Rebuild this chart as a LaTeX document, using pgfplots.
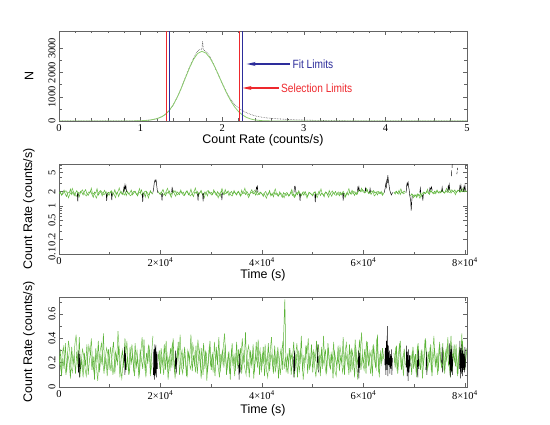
\documentclass[border=0pt]{standalone}
\usepackage{pgfplots}
\pgfplotsset{compat=1.18}
\usepackage{pgfplotstable}
\usepackage{graphicx}
\usetikzlibrary{arrows.meta}
\usepackage{fontspec}
\setmainfont{Liberation Serif}
\setsansfont{Liberation Sans}
\definecolor{lcgreen}{RGB}{90,178,55}
\definecolor{lcgreenB}{RGB}{110,190,75}
\definecolor{fitgreen}{RGB}{140,205,110}
\definecolor{selred}{RGB}{238,40,45}
\definecolor{fitblue}{RGB}{45,45,155}
\definecolor{framegray}{RGB}{100,100,100}

\pgfplotstableread[row sep=\\]{
1.80\\2.00\\1.68\\1.90\\2.15\\1.75\\1.58\\1.95\\1.85\\2.25\\1.72\\1.98\\1.64\\1.87\\2.09\\1.82\\1.55\\2.03\\1.92\\1.70\\
1.99\\2.19\\1.79\\1.66\\1.88\\2.06\\1.74\\1.52\\1.96\\1.84\\2.30\\1.69\\1.87\\2.02\\1.62\\1.90\\2.12\\1.78\\1.60\\1.93\\
1.85\\2.05\\1.67\\1.81\\2.18\\1.76\\1.94\\1.57\\1.88\\2.00\\1.74\\2.23\\1.98\\1.65\\1.97\\1.78\\1.91\\2.14\\1.71\\1.90\\
2.03\\1.79\\1.62\\1.96\\1.87\\2.16\\1.72\\1.91\\1.53\\2.00\\1.82\\1.68\\2.08\\1.88\\1.76\\nan\\nan\\nan\\2.02\\1.85\\
1.74\\1.97\\2.21\\1.81\\1.63\\1.93\\1.84\\2.05\\1.69\\1.88\\2.11\\1.78\\1.59\\1.99\\1.87\\1.72\\2.15\\1.82\\1.94\\1.66\\
1.90\\2.06\\1.71\\1.85\\2.24\\1.76\\1.57\\1.96\\1.84\\2.02\\1.65\\1.91\\2.12\\1.79\\1.68\\1.97\\1.87\\1.62\\2.04\\1.82\\
1.93\\1.75\\2.17\\1.85\\1.66\\2.00\\1.79\\1.59\\2.06\\1.88\\1.71\\2.20\\1.84\\1.94\\1.64\\1.87\\2.01\\1.76\\2.10\\1.83\\
1.69\\1.96\\1.87\\1.60\\2.14\\1.81\\1.91\\1.73\\2.02\\1.84\\1.63\\1.97\\2.19\\1.78\\1.90\\1.68\\2.04\\1.85\\1.74\\1.93\\
1.79\\1.58\\1.88\\2.00\\1.67\\1.75\\2.10\\1.63\\1.84\\1.55\\1.93\\1.72\\1.83\\1.61\\1.97\\1.70\\1.51\\1.90\\1.76\\1.64\\
1.85\\1.60\\1.74\\1.99\\1.66\\1.79\\1.56\\1.91\\1.71\\2.07\\1.81\\1.63\\1.88\\1.68\\2.01\\1.76\\1.58\\1.94\\1.83\\1.73\\
1.62\\1.87\\1.98\\1.69\\1.79\\2.05\\1.65\\1.84\\1.76\\1.55\\1.96\\1.88\\1.67\\2.10\\1.78\\1.59\\1.91\\1.82\\2.01\\1.71\\
1.84\\1.63\\1.93\\1.74\\2.02\\1.81\\1.58\\1.88\\1.69\\1.98\\1.78\\2.13\\1.87\\1.66\\1.95\\1.76\\2.06\\2.15\\1.97\\2.21\\
2.08\\1.87\\1.99\\2.18\\1.82\\2.03\\1.74\\1.94\\2.10\\1.86\\1.98\\1.70\\1.91\\1.80\\2.02\\1.67\\1.85\\nan\\nan\\nan\\
nan\\nan\\nan\\nan\\1.96\\1.77\\2.03\\1.84\\2.12\\1.73\\1.98\\1.86\\2.06\\1.92\\nan\\nan\\nan\\1.62\\1.80\\1.70\\
1.58\\1.69\\1.50\\1.77\\1.63\\1.86\\1.56\\1.74\\1.92\\1.82\\2.04\\1.88\\1.74\\2.11\\1.94\\1.85\\2.03\\1.80\\2.15\\1.90\\
2.00\\1.88\\2.19\\1.95\\1.84\\2.09\\1.92\\2.03\\2.25\\1.86\\2.06\\1.97\\2.17\\1.89\\2.02\\2.12\\1.93\\2.20\\1.98\\2.08\\
2.01\\2.10\\
}\midgreen

\pgfplotstableread[row sep=\\]{
1.92\\1.78\\1.71\\1.86\\1.99\\2.08\\1.83\\1.48\\1.75\\1.89\\2.33\\1.95\\1.80\\1.58\\1.69\\1.93\\1.84\\2.01\\2.17\\1.87\\
1.73\\1.62\\1.81\\1.97\\1.90\\2.36\\1.76\\1.85\\1.66\\1.46\\1.79\\1.94\\2.10\\2.02\\1.83\\1.71\\1.88\\1.97\\1.80\\1.67\\
1.91\\2.07\\1.82\\1.74\\1.49\\1.86\\2.00\\2.38\\1.89\\1.77\\1.83\\1.69\\1.95\\2.09\\1.85\\1.72\\1.63\\1.81\\1.98\\2.04\\
1.86\\1.70\\1.92\\2.31\\1.79\\1.66\\1.84\\1.99\\2.05\\1.75\\1.47\\1.88\\1.94\\1.80\\nan\\nan\\nan\\nan\\1.90\\1.77\\
1.95\\1.83\\1.68\\1.77\\2.02\\2.34\\1.89\\1.73\\1.50\\1.85\\1.96\\2.08\\1.81\\1.70\\1.87\\2.00\\1.92\\1.76\\1.64\\1.83\\
2.05\\1.91\\1.79\\1.62\\1.74\\1.88\\2.03\\2.37\\1.84\\1.72\\1.81\\1.97\\1.86\\1.69\\1.47\\1.82\\1.99\\2.10\\1.93\\1.78\\
1.68\\1.86\\2.01\\1.90\\1.75\\1.48\\1.80\\1.95\\2.32\\1.88\\1.76\\1.84\\1.98\\2.07\\1.82\\1.70\\1.61\\1.87\\1.94\\1.79\\
1.89\\2.04\\1.77\\1.66\\1.83\\1.97\\2.35\\1.85\\1.72\\1.49\\1.80\\1.92\\1.86\\2.00\\2.15\\1.81\\1.69\\1.76\\1.95\\1.84\\
1.70\\1.82\\1.65\\1.45\\1.78\\1.91\\1.83\\1.68\\1.74\\1.96\\2.26\\1.79\\1.62\\1.71\\1.86\\1.77\\1.67\\1.48\\1.81\\1.92\\
1.75\\1.64\\1.88\\2.22\\1.72\\1.50\\1.69\\1.84\\1.93\\1.78\\1.66\\1.80\\1.99\\1.87\\1.73\\1.46\\1.76\\1.90\\1.82\\1.70\\
1.85\\1.96\\1.73\\1.49\\1.77\\1.89\\2.27\\1.80\\1.68\\1.83\\1.94\\1.75\\1.52\\1.79\\1.91\\2.06\\1.84\\1.71\\1.66\\1.88\\
1.97\\1.80\\1.69\\1.86\\1.75\\1.50\\1.83\\1.95\\2.30\\1.88\\1.76\\1.90\\2.02\\1.85\\1.73\\1.96\\2.12\\2.04\\2.36\\1.99\\
1.91\\2.06\\2.34\\1.94\\1.83\\1.89\\2.07\\1.99\\1.62\\1.72\\1.90\\2.03\\1.95\\1.84\\1.76\\1.93\\nan\\nan\\nan\\nan\\
nan\\nan\\nan\\nan\\1.85\\2.00\\1.89\\1.76\\1.94\\2.28\\1.91\\1.79\\1.87\\nan\\nan\\nan\\nan\\1.75\\1.66\\1.48\\
1.72\\1.61\\1.79\\1.67\\1.45\\1.73\\1.84\\1.95\\1.80\\1.91\\2.24\\1.83\\1.96\\2.07\\1.86\\1.78\\1.92\\2.06\\1.97\\1.85\\
1.93\\2.11\\2.02\\1.87\\1.98\\2.34\\2.05\\1.90\\1.96\\2.18\\2.08\\1.94\\1.72\\2.00\\2.16\\2.07\\1.95\\2.03\\2.38\\1.97\\
2.06\\1.99\\
}\midgreenB

\pgfplotstableread[row sep=\\]{
0.18\\0.31\\0.09\\0.24\\0.15\\0.36\\0.12\\0.27\\0.21\\0.07\\0.33\\0.19\\0.26\\0.11\\0.29\\0.16\\0.41\\0.13\\0.23\\0.08\\
0.28\\0.17\\0.35\\0.10\\0.22\\0.30\\0.14\\0.25\\0.06\\0.32\\0.20\\0.38\\0.12\\0.27\\0.18\\0.44\\0.15\\0.24\\0.09\\0.31\\
0.21\\0.13\\0.29\\0.37\\0.11\\0.26\\0.19\\0.34\\0.08\\0.23\\0.30\\0.16\\0.40\\0.14\\0.25\\0.10\\0.33\\0.20\\0.27\\0.12\\
0.36\\0.17\\0.24\\0.07\\0.31\\0.22\\0.15\\0.39\\0.13\\0.28\\0.19\\0.34\\0.09\\0.26\\0.42\\nan\\nan\\nan\\0.21\\0.30\\
0.11\\0.25\\0.18\\0.35\\0.14\\0.29\\0.06\\0.23\\0.32\\0.16\\0.40\\0.12\\0.27\\0.20\\0.37\\0.10\\0.24\\0.30\\0.15\\0.33\\
0.19\\0.08\\0.28\\0.22\\0.43\\0.13\\0.26\\0.17\\0.34\\0.11\\0.25\\0.31\\0.07\\0.21\\0.36\\0.15\\0.29\\0.12\\0.24\\0.38\\
0.14\\0.27\\0.20\\0.09\\0.33\\0.18\\0.41\\0.12\\0.25\\0.30\\0.16\\0.35\\0.10\\0.22\\0.28\\0.06\\0.31\\0.19\\0.26\\0.13\\
0.37\\0.15\\0.24\\0.32\\0.11\\0.28\\0.20\\0.45\\0.14\\0.23\\0.08\\0.30\\0.18\\0.35\\0.12\\0.26\\0.21\\0.39\\0.10\\0.27\\
0.17\\0.33\\0.09\\0.25\\0.19\\0.36\\0.13\\0.28\\0.22\\0.11\\0.34\\0.16\\0.29\\0.07\\0.24\\0.31\\0.14\\0.40\\0.72\\0.12\\
0.26\\0.18\\0.32\\0.10\\0.23\\0.37\\0.15\\0.27\\0.08\\0.30\\0.19\\0.42\\0.13\\0.25\\0.21\\0.34\\0.11\\0.28\\0.17\\0.35\\
0.12\\0.29\\0.21\\0.38\\0.14\\0.26\\0.09\\0.33\\0.18\\0.24\\0.31\\0.11\\0.36\\0.20\\0.15\\0.27\\0.07\\0.30\\0.23\\0.17\\
0.34\\0.13\\0.25\\0.19\\0.41\\0.10\\0.28\\0.22\\0.16\\0.35\\0.12\\0.30\\0.24\\0.08\\0.33\\0.18\\0.27\\0.39\\0.14\\0.26\\
0.20\\0.31\\0.11\\0.37\\0.17\\0.24\\0.29\\0.09\\0.35\\0.21\\0.15\\0.43\\0.12\\0.27\\0.19\\0.32\\0.23\\nan\\nan\\nan\\
nan\\nan\\nan\\nan\\0.28\\0.16\\0.34\\0.11\\0.25\\0.38\\0.14\\0.22\\0.30\\0.18\\nan\\nan\\nan\\0.26\\0.10\\0.33\\
0.19\\0.27\\0.08\\0.36\\0.22\\0.14\\0.31\\0.17\\0.25\\0.40\\0.12\\0.29\\0.20\\0.35\\0.09\\0.24\\0.32\\0.16\\0.28\\0.13\\
0.37\\0.21\\0.15\\0.30\\0.11\\0.26\\0.34\\0.18\\0.23\\0.42\\0.13\\0.28\\0.20\\0.35\\0.09\\0.25\\0.31\\0.16\\0.38\\0.22\\
0.14\\0.29\\
}\lowgreen

\pgfplotstableread[row sep=\\]{
0.22\\0.14\\0.27\\0.33\\0.19\\0.10\\0.24\\0.38\\0.29\\0.16\\0.12\\0.21\\0.35\\0.43\\0.25\\0.18\\0.08\\0.20\\0.31\\0.26\\
0.15\\0.09\\0.23\\0.34\\0.28\\0.40\\0.19\\0.13\\0.26\\0.17\\0.05\\0.22\\0.30\\0.36\\0.21\\0.11\\0.24\\0.32\\0.27\\0.14\\
0.33\\0.25\\0.10\\0.18\\0.29\\0.22\\0.46\\0.31\\0.15\\0.07\\0.20\\0.27\\0.23\\0.38\\0.17\\0.12\\0.26\\0.35\\0.21\\0.09\\
0.24\\0.30\\0.16\\0.11\\0.28\\0.41\\0.25\\0.19\\0.08\\0.22\\0.34\\0.29\\0.14\\0.20\\nan\\nan\\nan\\nan\\0.27\\0.15\\
0.32\\0.21\\0.10\\0.26\\0.38\\0.17\\0.23\\0.13\\0.29\\0.36\\0.20\\0.07\\0.18\\0.31\\0.25\\0.43\\0.16\\0.11\\0.27\\0.22\\
0.09\\0.30\\0.24\\0.15\\0.19\\0.35\\0.28\\0.12\\0.21\\0.39\\0.26\\0.16\\0.32\\0.10\\0.23\\0.29\\0.05\\0.20\\0.34\\0.17\\
0.25\\0.12\\0.37\\0.21\\0.30\\0.16\\0.08\\0.27\\0.19\\0.33\\0.44\\0.22\\0.14\\0.29\\0.11\\0.24\\0.36\\0.20\\0.09\\0.28\\
0.18\\0.31\\0.13\\0.26\\0.40\\0.21\\0.15\\0.10\\0.29\\0.34\\0.23\\0.17\\0.27\\0.07\\0.22\\0.37\\0.16\\0.25\\0.31\\0.12\\
0.28\\0.19\\0.35\\0.14\\0.08\\0.23\\0.30\\0.41\\0.17\\0.26\\0.12\\0.21\\0.33\\0.20\\0.10\\0.27\\0.38\\0.15\\0.24\\0.19\\
0.11\\0.32\\0.22\\0.27\\0.16\\0.09\\0.25\\0.36\\0.20\\0.13\\0.29\\0.24\\0.06\\0.18\\0.33\\0.28\\0.40\\0.14\\0.22\\0.26\\
0.30\\0.17\\0.08\\0.24\\0.35\\0.21\\0.27\\0.15\\0.42\\0.19\\0.11\\0.25\\0.31\\0.16\\0.28\\0.22\\0.37\\0.13\\0.09\\0.24\\
0.20\\0.33\\0.26\\0.12\\0.18\\0.29\\0.36\\0.23\\0.10\\0.27\\0.31\\0.15\\0.21\\0.39\\0.17\\0.06\\0.24\\0.30\\0.45\\0.19\\
0.14\\0.25\\0.38\\0.22\\0.29\\0.11\\0.19\\0.34\\0.26\\0.16\\0.40\\0.23\\0.08\\0.30\\0.21\\0.27\\nan\\nan\\nan\\nan\\
nan\\nan\\nan\\nan\\0.20\\0.33\\0.13\\0.27\\0.36\\0.18\\0.24\\0.09\\0.31\\nan\\nan\\nan\\nan\\0.22\\0.29\\0.15\\
0.26\\0.11\\0.34\\0.21\\0.17\\0.30\\0.07\\0.24\\0.39\\0.28\\0.15\\0.20\\0.33\\0.12\\0.27\\0.42\\0.18\\0.23\\0.10\\0.31\\
0.25\\0.16\\0.36\\0.13\\0.29\\0.22\\0.41\\0.19\\0.08\\0.30\\0.24\\0.35\\0.17\\0.26\\0.11\\0.33\\0.20\\0.44\\0.14\\0.28\\
0.21\\0.32\\
}\lowgreenB

\pgfplotsset{
  panel/.style={
    scale only axis, width=408bp, height=90bp, anchor=south west,
    axis line style={framegray, line width=0.6pt},
    every tick/.style={framegray, line width=0.5pt},
    tick align=inside,
    major tick length=4bp, minor tick length=2.5bp,
    ticklabel style={font=\fontsize{10.5}{12}\selectfont, text=black},
    /pgf/number format/assume math mode=true,
    /pgf/number format/1000 sep={},
    scaled ticks=false,
    yticklabel style={rotate=90, anchor=south},
    every axis x label/.style={at={(axis description cs:0.5,0)}, anchor=center,
      font=\sffamily\fontsize{12.5}{15}\selectfont},
    every axis y label/.style={at={(axis description cs:-0.0735,0.5)}, anchor=center,
      rotate=90, font=\sffamily\fontsize{12.5}{15}\selectfont},
    unbounded coords=jump,
  },
  timex/.style={
    xmin=0, xmax=80400,
    xtick={0,20000,40000,60000,80000},
    xticklabels={0,2\texttimes10\textsuperscript{4},4\texttimes10\textsuperscript{4},6\texttimes10\textsuperscript{4},8\texttimes10\textsuperscript{4}},
    minor xtick={10000,30000,50000,70000},
    xlabel={Time (s)},
  }
}

\begin{document}
\begin{tikzpicture}
\useasboundingbox (0,0) rectangle (550bp,425bp);

% ---------------- top panel: histogram ----------------
\begin{axis}[panel, at={(59bp,304bp)},
  xmin=0, xmax=5, ymin=0, ymax=3720,
  xtick={0,1,2,3,4,5}, minor x tick num=4,
  ytick={0,1000,2000,3000}, minor y tick num=1,
  xlabel={Count Rate (counts/s)}, ylabel={N},
  xlabel style={yshift=-19bp}]
\addplot[black!70, densely dotted, line width=0.6pt] coordinates {
(0,0)(0.88,0)(0.92,2)(0.96,5)(1.00,9)(1.04,15)(1.08,25)(1.12,38)(1.16,60)(1.20,95)
(1.24,150)(1.28,215)(1.32,320)(1.36,470)(1.40,660)(1.44,930)(1.48,1200)(1.52,1560)
(1.56,1900)(1.60,2230)(1.64,2520)(1.68,2800)(1.72,2960)(1.75,2950)(1.76,3300)(1.77,2930)(1.80,2880)
(1.84,2720)(1.88,2450)(1.92,2150)(1.96,1850)(2.00,1560)(2.04,1280)(2.08,1020)
(2.12,820)(2.16,660)(2.20,540)(2.24,450)(2.28,370)(2.32,310)(2.36,260)(2.40,215)
(2.44,185)(2.48,160)(2.52,140)(2.56,125)(2.60,110)(2.70,85)(2.80,65)(2.90,50)
(3.00,40)(3.10,30)(3.20,22)(3.40,12)(3.60,6)(3.80,3)(4.00,1)(4.50,0)(5,0)};
\addplot[fitgreen, line width=0.8pt] coordinates {
(0,0)(0.8,0)(0.9,2)(1.0,10)(1.1,32)(1.15,60)(1.2,100)(1.25,160)(1.3,259)(1.35,429)
(1.4,670)(1.45,987)(1.5,1369)(1.55,1789)(1.6,2203)(1.65,2557)(1.7,2796)(1.75,2880)
(1.8,2810)(1.85,2609)(1.9,2306)(1.95,1940)(2.0,1553)(2.05,1184)(2.1,859)(2.15,593)
(2.2,390)(2.25,244)(2.3,145)(2.35,82)(2.4,44)(2.5,11)(2.6,2)(2.8,0)(5,0)};
\addplot[selred, line width=1.3pt] coordinates {(1.32,0)(1.32,3720)};
\addplot[selred, line width=1.3pt] coordinates {(2.21,0)(2.21,3720)};
\addplot[fitblue, line width=1.3pt] coordinates {(1.352,0)(1.352,3720)};
\addplot[fitblue, line width=1.3pt] coordinates {(2.246,0)(2.246,3720)};
\draw[fitblue, line width=1.1pt, -{Stealth[length=9bp,width=4bp]}] (axis cs:2.83,2356) -- (axis cs:2.30,2356);
\draw[selred, line width=1.1pt, -{Stealth[length=9bp,width=4bp]}] (axis cs:2.69,1364) -- (axis cs:2.25,1364);
\node[anchor=west, inner sep=0pt, text=fitblue] at (axis cs:2.86,2356)
  {\scalebox{0.85}[1]{\sffamily\fontsize{12}{14}\selectfont Fit Limits}};
\node[anchor=west, inner sep=0pt, text=selred] at (axis cs:2.72,1364)
  {\scalebox{0.85}[1]{\sffamily\fontsize{12}{14}\selectfont Selection Limits}};
\end{axis}

% ---------------- middle panel: log light curve ----------------
\begin{axis}[panel, timex, at={(59bp,171bp)},
  ymode=log, ymin=0.1, ymax=7.5,
  ytick={0.1,0.2,0.5,1,2,5}, yticklabels={0.1,0.2,0.5,1,2,5},
  minor ytick={0.3,0.4,0.6,0.7,0.8,0.9,3,4,6,7},
  ylabel={Count Rate (counts/s)},
  xlabel style={yshift=-21bp}]
\addplot[lcgreenB, line width=0.5pt] table[x expr=125+\coordindex*250, y index=0] {\midgreenB};
\addplot[lcgreen, line width=0.5pt] table[x expr=\coordindex*250, y index=0] {\midgreen};
\addplot[black, line width=0.45pt] coordinates {
(3600,1.85)(3700,1.25)(3800,1.82)(3900,nan)
(9300,1.8)(9400,1.28)(9500,1.86)(9600,nan)
(10300,1.9)(10400,1.32)(10500,1.84)(10600,nan)
(12700,1.9)(12800,2.45)(12900,2.2)(13000,2.75)(13100,2.3)(13200,2.6)(13300,1.95)(13400,nan)
(16400,1.8)(16500,1.22)(16600,1.85)(16700,nan)
(18500,1.9)(18650,2.3)(18750,2.9)(18850,3.3)(18950,3.5)(19050,3.2)(19150,3.4)(19250,2.7)(19350,2.2)(19450,1.9)(19500,nan)
(20200,1.8)(20300,1.3)(20400,1.85)(20500,nan)
(22200,1.95)(22300,2.5)(22400,1.9)(22500,nan)
(27300,1.8)(27400,1.3)(27500,1.9)(27600,nan)
(28300,1.8)(28400,1.25)(28500,1.85)(28600,nan)
(32000,1.8)(32100,1.32)(32200,1.85)(32300,nan)
(38800,1.95)(38900,2.45)(39000,2.3)(39100,2.55)(39200,1.95)(39300,nan)
(46300,1.9)(46400,2.5)(46500,2.6)(46600,2.4)(46700,1.9)(46800,nan)
(47400,1.8)(47500,1.28)(47600,1.8)(47700,nan)
(50400,1.75)(50500,1.2)(50600,1.8)(50700,nan)
(55900,1.8)(56000,1.3)(56100,1.85)(56200,nan)
(58800,2.0)(58900,2.45)(59000,2.2)(59100,2.5)(59200,2.05)(59300,nan)
(60300,2.0)(60400,2.35)(60500,2.05)(60600,nan)
(61200,1.9)(61300,2.3)(61400,1.95)(61500,nan)
(64100,1.9)(64250,2.3)(64400,2.9)(64500,2.5)(64600,3.6)(64700,3.0)(64800,4.4)(64900,3.4)(65000,2.9)(65100,2.4)(65250,2.0)(65400,1.8)(65500,1.7)(65650,1.85)(65800,1.9)(65900,nan)
(68400,1.9)(68500,2.6)(68600,3.0)(68700,2.7)(68800,3.1)(68900,2.5)(69000,2.2)(69100,1.7)(69300,1.3)(69400,0.8)(69500,1.2)(69600,1.6)(69700,nan)
(71100,1.9)(71200,2.35)(71300,1.85)(71400,nan)
(71600,1.7)(71700,1.3)(71800,1.75)(71900,nan)
(73000,2.0)(73100,2.4)(73250,2.2)(73400,2.5)(73550,2.1)(73600,nan)
(75400,2.0)(75500,2.45)(75600,2.0)(75700,nan)
(76600,2.0)(76700,2.6)(76800,2.3)(76900,2.8)(77000,2.2)(77100,nan)
(77300,4.2)(77350,5.5)(77400,nan)(77450,6.2)(77500,7.4)(77550,nan)
(78400,4.6)(78450,5.2)(78480,nan)(78500,5.6)(78550,6.2)(78600,nan)
(78900,2.0)(79000,2.6)(79100,2.3)(79200,2.7)(79300,2.1)(79400,nan)
(79700,2.0)(79800,2.5)(79900,2.2)(80000,2.7)(80100,2.1)};
\end{axis}

% ---------------- bottom panel: linear light curve ----------------
\begin{axis}[panel, timex, at={(59bp,38bp)},
  ymin=0, ymax=0.74,
  ytick={0,0.2,0.4,0.6}, yticklabels={0,0.2,0.4,0.6},
  minor ytick={0.1,0.3,0.5,0.7},
  ylabel={Count Rate (counts/s)},
  xlabel style={yshift=-23bp}]
\addplot[lcgreenB, line width=0.5pt] table[x expr=125+\coordindex*250, y index=0] {\lowgreenB};
\addplot[lcgreen, line width=0.5pt] table[x expr=\coordindex*250, y index=0] {\lowgreen};
\addplot[black, line width=0.45pt] coordinates {
(3800,0.12)(3900,0.30)(4000,0.08)(4100,0.27)(4200,0.15)(4300,nan)
(12800,0.20)(12900,0.33)(13000,0.10)(13100,0.28)(13200,0.14)(13300,nan)
(18600,0.10)(18650,0.28)(18700,0.31)(18750,0.09)(18800,0.06)(18850,0.30)(18900,0.35)(18950,0.11)(19000,0.12)(19050,0.32)(19100,0.33)(19150,0.10)(19200,0.08)(19250,0.27)(19300,0.29)(19400,0.15)(19450,nan)
(22900,0.15)(23000,0.30)(23100,0.11)(23200,0.24)(23300,nan)
(35400,0.18)(35500,0.06)(35600,0.27)(35700,0.12)(35800,nan)
(46200,0.25)(46300,0.08)(46400,0.30)(46500,0.13)(46600,nan)
(50900,0.20)(51000,0.35)(51100,0.12)(51200,nan)
(58900,0.12)(59000,0.30)(59100,0.07)(59200,0.28)(59300,0.16)(59400,nan)
(64200,0.18)(64300,0.32)(64400,0.10)(64500,0.38)(64600,0.14)(64700,0.50)(64800,0.09)(64900,0.34)(65000,0.18)(65100,0.30)(65200,0.11)(65300,0.27)(65400,0.15)(65500,0.31)(65600,0.10)(65700,0.24)(65800,nan)
(68400,0.16)(68500,0.34)(68600,0.09)(68700,0.29)(68800,0.05)(68900,0.31)(69000,0.12)(69100,0.26)(69200,0.17)(69300,nan)
(70600,0.22)(70700,0.08)(70800,0.30)(70900,0.15)(71000,nan)
(72300,0.14)(72400,0.29)(72500,0.10)(72600,nan)
(75400,0.20)(75500,0.33)(75600,0.12)(75700,nan)
(76900,0.18)(77000,0.36)(77100,0.08)(77200,0.31)(77300,0.12)(77400,0.34)(77500,0.10)(77600,0.25)(77700,nan)
(78900,0.15)(79000,0.38)(79100,0.07)(79200,0.32)(79300,0.11)(79400,0.35)(79500,0.09)(79600,0.30)(79700,0.14)(79800,0.27)(79900,0.12)(80000,0.33)(80100,0.16)};
\end{axis}
\end{tikzpicture}
\end{document}
